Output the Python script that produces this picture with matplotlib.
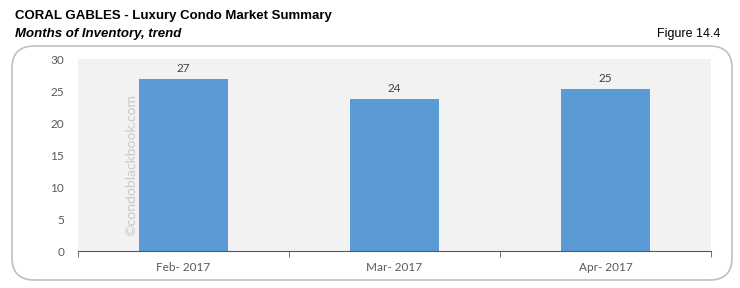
import matplotlib.pyplot as plt
from matplotlib.patches import FancyBboxPatch

months = ['Feb- 2017', 'Mar- 2017', 'Apr- 2017']
inventory = [26.9, 23.7, 25.3]
value_labels = ['27', '24', '25']
y_ticks = [0, 5, 10, 15, 20, 25, 30]

W, H = 740, 288
fig = plt.figure(figsize=(W / 100, H / 100), dpi=100)

# rounded frame around the chart
frame = FancyBboxPatch((12 / W, 8 / H), 720 / W, 234 / H,
                       boxstyle='round,pad=0,rounding_size=0.03',
                       transform=fig.transFigure, facecolor='white',
                       edgecolor='#c0c0c0', linewidth=1.2, mutation_aspect=W / H,
                       zorder=-1)
fig.patches.append(frame)

fig.text(15 / W, 1 - 16 / H, 'CORAL GABLES - Luxury Condo Market Summary',
         fontsize=9.5, fontweight='bold', family='Liberation Sans', va='center')
fig.text(15 / W, 1 - 34 / H, 'Months of Inventory, trend',
         fontsize=9.5, fontweight='bold', style='italic', family='Liberation Sans', va='center')
fig.text(720 / W, 1 - 34 / H, 'Figure 14.4',
         fontsize=9, family='Liberation Sans', ha='right', va='center')

ax = fig.add_axes([78 / W, 1 - 251 / H, 633 / W, 192 / H])
ax.set_zorder(2)
ax.set_facecolor('#f2f2f2')
x = list(range(len(months)))
bars = ax.bar(x, inventory, width=0.42, color='#5b9bd5', zorder=2)
for b, lab in zip(bars, value_labels):
    ax.text(b.get_x() + b.get_width() / 2, b.get_height() + 0.8, lab,
            ha='center', va='bottom', fontsize=8.5, color='#404040', family='Lato')

ax.set_xlim(-0.5, len(months) - 0.5)
ax.set_ylim(0, 30)
ax.set_yticks(y_ticks)
ax.set_xticks(x)
ax.set_xticklabels(months)
ax.set_xticks([i + 0.5 for i in range(-1, len(months))], minor=True)
ax.tick_params(axis='x', which='major', length=0, pad=8, labelsize=8.5, labelcolor='#595959')
ax.tick_params(axis='x', which='minor', length=4, direction='out', color='#595959')
ax.tick_params(axis='y', length=0, pad=10, labelsize=8.5, labelcolor='#595959')
for lab in ax.get_xticklabels() + ax.get_yticklabels():
    lab.set_family('Lato')
for s in ['top', 'right', 'left']:
    ax.spines[s].set_visible(False)
ax.spines['bottom'].set_color('#595959')

# watermark
ax.text(-0.25, 13.5, '©condoblackbook.com', rotation=90, ha='center', va='center',
        fontsize=10, color='#bfbfbf', alpha=0.8, family='Lato', zorder=3)

fig.savefig('out.png', dpi=100)
